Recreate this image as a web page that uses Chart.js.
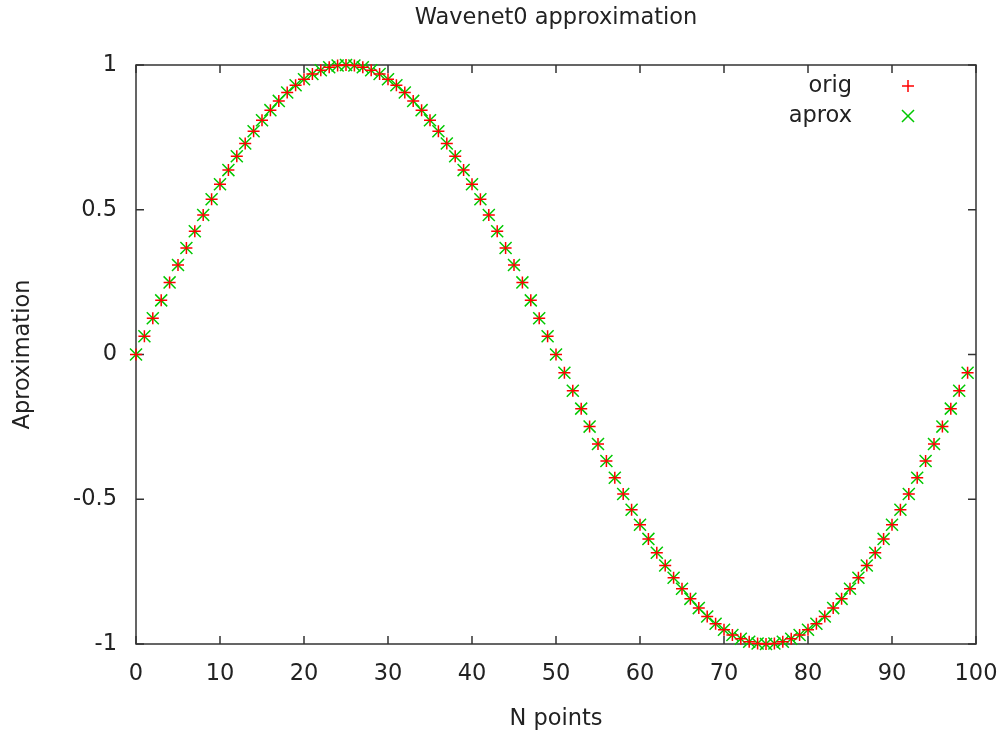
<!DOCTYPE html>
<html>
<head>
<meta charset="utf-8">
<script src="https://cdn.jsdelivr.net/npm/chart.js@4.4.0/dist/chart.umd.min.js"></script>
<style>
  html, body { margin: 0; padding: 0; background: #fff; }
  #wrap { width: 1003px; height: 736px; }
</style>
</head>
<body>
<div id="wrap"><canvas id="waveChart" width="1003" height="736"></canvas></div>
<script>
// values, one per N point (0..99)
const origValues = [
    0.000, 0.063, 0.125, 0.187, 0.249, 0.309, 0.368, 0.426, 0.482, 0.536,
    0.588, 0.637, 0.685, 0.729, 0.771, 0.809, 0.844, 0.876, 0.905, 0.930,
    0.951, 0.969, 0.982, 0.992, 0.998, 1.000, 0.998, 0.992, 0.982, 0.969,
    0.951, 0.930, 0.905, 0.876, 0.844, 0.809, 0.771, 0.729, 0.685, 0.637,
    0.588, 0.536, 0.482, 0.426, 0.368, 0.309, 0.249, 0.187, 0.125, 0.063,
    0.000, -0.063, -0.125, -0.187, -0.249, -0.309, -0.368, -0.426, -0.482, -0.536,
    -0.588, -0.637, -0.685, -0.729, -0.771, -0.809, -0.844, -0.876, -0.905, -0.930,
    -0.951, -0.969, -0.982, -0.992, -0.998, -1.000, -0.998, -0.992, -0.982, -0.969,
    -0.951, -0.930, -0.905, -0.876, -0.844, -0.809, -0.771, -0.729, -0.685, -0.637,
    -0.588, -0.536, -0.482, -0.426, -0.368, -0.309, -0.249, -0.187, -0.125, -0.063
];
const aproxValues = [
    0.000, 0.063, 0.125, 0.187, 0.249, 0.309, 0.368, 0.426, 0.482, 0.536,
    0.588, 0.637, 0.685, 0.729, 0.771, 0.809, 0.844, 0.876, 0.905, 0.930,
    0.951, 0.969, 0.982, 0.992, 0.998, 1.000, 0.998, 0.992, 0.982, 0.969,
    0.951, 0.930, 0.905, 0.876, 0.844, 0.809, 0.771, 0.729, 0.685, 0.637,
    0.588, 0.536, 0.482, 0.426, 0.368, 0.309, 0.249, 0.187, 0.125, 0.063,
    0.000, -0.063, -0.125, -0.187, -0.249, -0.309, -0.368, -0.426, -0.482, -0.536,
    -0.588, -0.637, -0.685, -0.729, -0.771, -0.809, -0.844, -0.876, -0.905, -0.930,
    -0.951, -0.969, -0.982, -0.992, -0.998, -1.000, -0.998, -0.992, -0.982, -0.969,
    -0.951, -0.930, -0.905, -0.876, -0.844, -0.809, -0.771, -0.729, -0.685, -0.637,
    -0.588, -0.536, -0.482, -0.426, -0.368, -0.309, -0.249, -0.187, -0.125, -0.063
];
const xTicks = [0, 10, 20, 30, 40, 50, 60, 70, 80, 90, 100];
const yTicks = [-1, -0.5, 0, 0.5, 1];

const FONT = 'DejaVu Sans';
const FSIZE = 22.5;
const TEXT = '#222';
const AXIS = '#333';

const toPoints = (vals) => vals.map((v, i) => ({ x: i, y: v }));

// gnuplot style box with ticks pointing inward + key at top right
const frame = {
    id: 'frame',
    beforeDatasetsDraw(chart) {
        const { ctx, chartArea: a, scales } = chart;
        const tl = 8;
        ctx.save();
        ctx.strokeStyle = AXIS;
        ctx.lineWidth = 1.5;
        ctx.strokeRect(a.left, a.top, a.right - a.left, a.bottom - a.top);
        ctx.beginPath();
        xTicks.forEach((v) => {
            const px = scales.x.getPixelForValue(v);
            ctx.moveTo(px, a.bottom); ctx.lineTo(px, a.bottom - tl);
            ctx.moveTo(px, a.top); ctx.lineTo(px, a.top + tl);
        });
        yTicks.forEach((v) => {
            const py = scales.y.getPixelForValue(v);
            ctx.moveTo(a.left, py); ctx.lineTo(a.left + tl, py);
            ctx.moveTo(a.right, py); ctx.lineTo(a.right - tl, py);
        });
        ctx.stroke();
        ctx.restore();
    },
    afterDatasetsDraw(chart) {
        const { ctx, chartArea: a } = chart;
        ctx.save();
        ctx.font = FSIZE + 'px "' + FONT + '"';
        ctx.fillStyle = TEXT;
        ctx.textAlign = 'right';
        ctx.textBaseline = 'middle';
        const mx = a.right - 68;
        chart.data.datasets.forEach((ds, i) => {
            const y = a.top + 21 + i * 30;
            ctx.fillText(ds.label, a.right - 124, y);
            ctx.strokeStyle = ds.borderColor;
            ctx.lineWidth = ds.pointBorderWidth;
            ctx.beginPath();
            const r = ds.pointRadius;
            if (ds.pointStyle === 'cross') {
                ctx.moveTo(mx - r, y); ctx.lineTo(mx + r, y);
                ctx.moveTo(mx, y - r); ctx.lineTo(mx, y + r);
            } else {
                const d = r * Math.SQRT1_2;
                ctx.moveTo(mx - d, y - d); ctx.lineTo(mx + d, y + d);
                ctx.moveTo(mx - d, y + d); ctx.lineTo(mx + d, y - d);
            }
            ctx.stroke();
        });
        ctx.restore();
    }
};

const renderWaveChart = () => {
    var ctx = document.getElementById('waveChart').getContext('2d');
    new Chart(ctx, {
        type: 'scatter',
        data: {
            datasets: [{
                label: 'orig',
                data: toPoints(origValues),
                pointStyle: 'cross',
                pointRadius: 6,
                pointBorderWidth: 1.5,
                borderColor: '#ff0000',
                backgroundColor: '#ff0000',
                clip: false,
            }, {
                label: 'aprox',
                data: toPoints(aproxValues),
                pointStyle: 'crossRot',
                pointRadius: 8.5,
                pointBorderWidth: 1.5,
                borderColor: '#00c800',
                backgroundColor: '#00c800',
                clip: false,
            }],
        },
        options: {
            responsive: false,
            animation: false,
            layout: { padding: { left: 0, right: 27, top: 0, bottom: 0 } },
            plugins: {
                legend: { display: false },
                tooltip: { enabled: false },
                title: {
                    display: true,
                    fullSize: false,
                    text: 'Wavenet0 approximation',
                    color: TEXT,
                    font: { family: FONT, size: FSIZE, weight: 'normal' },
                    padding: { top: 5, bottom: 33 },
                },
            },
            scales: {
                x: {
                    type: 'linear',
                    min: 0,
                    max: 100,
                    afterFit: (s) => { s.height = 92; s.paddingLeft = 0; s.paddingRight = 0; },
                    afterBuildTicks: (s) => { s.ticks = xTicks.map((v) => ({ value: v })); },
                    grid: { display: false, drawTicks: false },
                    border: { display: false },
                    ticks: { color: TEXT, padding: 17, maxRotation: 0, font: { family: FONT, size: FSIZE } },
                    title: {
                        display: true,
                        text: 'N points',
                        color: TEXT,
                        font: { family: FONT, size: FSIZE },
                        padding: { top: 6, bottom: 3 },
                    },
                },
                y: {
                    min: -1,
                    max: 1,
                    afterFit: (s) => { s.width = 136; },
                    afterBuildTicks: (s) => { s.ticks = yTicks.map((v) => ({ value: v })); },
                    grid: { display: false, drawTicks: false },
                    border: { display: false },
                    ticks: {
                        color: TEXT,
                        padding: 19,
                        font: { family: FONT, size: FSIZE },
                        callback: (v) => String(v),
                    },
                    title: {
                        display: true,
                        text: 'Aproximation',
                        color: TEXT,
                        font: { family: FONT, size: FSIZE },
                        padding: { top: 10, bottom: 0 },
                    },
                },
            },
        },
        plugins: [frame],
    });
};

window.addEventListener('load', renderWaveChart);
</script>
</body>
</html>
